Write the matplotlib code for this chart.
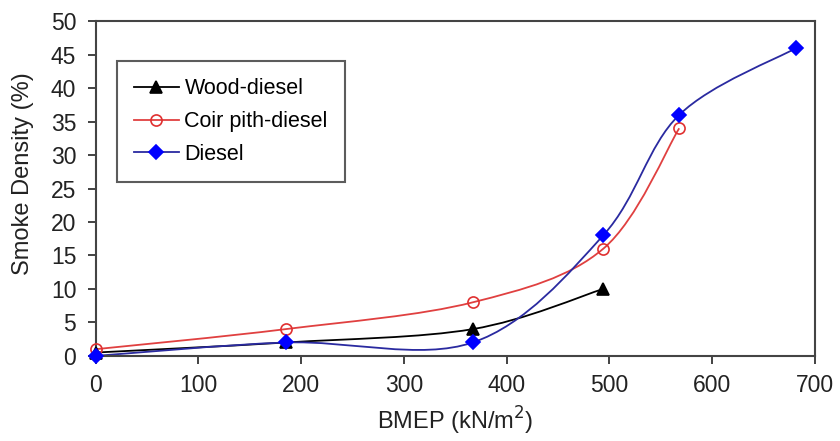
import matplotlib
matplotlib.use('Agg')
import matplotlib.pyplot as plt
from matplotlib.path import Path
from matplotlib.patches import PathPatch
from matplotlib.lines import Line2D

plt.rcParams['font.family'] = ['Liberation Sans', 'DejaVu Sans']

# data
wood_x = [0, 185, 367, 494]
wood_y = [0.5, 2, 4, 10]
coir_x = [0, 185, 367, 494, 568]
coir_y = [1, 4, 8, 16, 34]
diesel_x = [0, 185, 367, 494, 568, 682]
diesel_y = [0, 2, 2, 18, 36, 46]


def smooth_path(xs, ys):
    # Excel-like smoothed line: cubic bezier through the points
    pts = list(zip(xs, ys))
    verts = [pts[0]]
    codes = [Path.MOVETO]
    n = len(pts)
    for i in range(n - 1):
        p0 = pts[i - 1] if i > 0 else pts[i]
        p1 = pts[i]
        p2 = pts[i + 1]
        p3 = pts[i + 2] if i + 2 < n else pts[i + 1]
        c1 = (p1[0] + (p2[0] - p0[0]) / 6, p1[1] + (p2[1] - p0[1]) / 6)
        c2 = (p2[0] - (p3[0] - p1[0]) / 6, p2[1] - (p3[1] - p1[1]) / 6)
        verts += [c1, c2, p2]
        codes += [Path.CURVE4] * 3
    return Path(verts, codes)


fig = plt.figure(figsize=(8.4, 4.41), dpi=100)
ax = fig.add_axes([0.114, 0.193, 0.856, 0.759])

series = [
    (wood_x, wood_y, 'black', 'black', '^', 'black', 8, 'Wood-diesel'),
    (coir_x, coir_y, '#e04040', '#e03030', 'o', 'none', 8, 'Coir pith-diesel'),
    (diesel_x, diesel_y, '#2a2aa0', '#0000ff', 'D', '#0000ff', 7, 'Diesel'),
]
handles = []
for xs, ys, lc, mc, mk, mf, ms, lab in series:
    ax.add_patch(PathPatch(smooth_path(xs, ys), facecolor='none', edgecolor=lc, lw=1.3, zorder=2))
    ax.plot(xs, ys, ls='none', marker=mk, ms=ms, mec=mc, mfc=mf, mew=1.2, zorder=3, clip_on=False)
    handles.append(Line2D([], [], color=lc, lw=1.3, marker=mk, ms=ms, mec=mc, mfc=mf, mew=1.2))

ax.set_xlim(0, 700)
ax.set_ylim(0, 50)
ax.set_xticks(range(0, 701, 100))
ax.set_yticks(range(0, 51, 5))
ax.tick_params(direction='out', length=6, width=1.2, labelsize=16.5, colors='#222222', top=False, right=False)
ax.tick_params(axis='x', pad=7)
ax.tick_params(axis='y', pad=8)
for s in ax.spines.values():
    s.set_color('#444444')
    s.set_linewidth(1.5)
ax.set_xlabel('BMEP (kN/m$^2$)', fontsize=17, color='#222222', labelpad=6)
ax.set_ylabel('Smoke Density (%)', fontsize=17, color='#222222')
ax.yaxis.set_label_coords(-0.086, 0.546)

leg = ax.legend(handles, [s[7] for s in series], loc='upper left', bbox_to_anchor=(0.029, 0.881),
                fontsize=15.5, frameon=True, fancybox=False, edgecolor='#333333', handlelength=2.1,
                borderpad=0.8, labelspacing=0.55, handletextpad=0.25, borderaxespad=0)
leg.get_frame().set_linewidth(1.5)

fig.savefig('out.png', dpi=100)
